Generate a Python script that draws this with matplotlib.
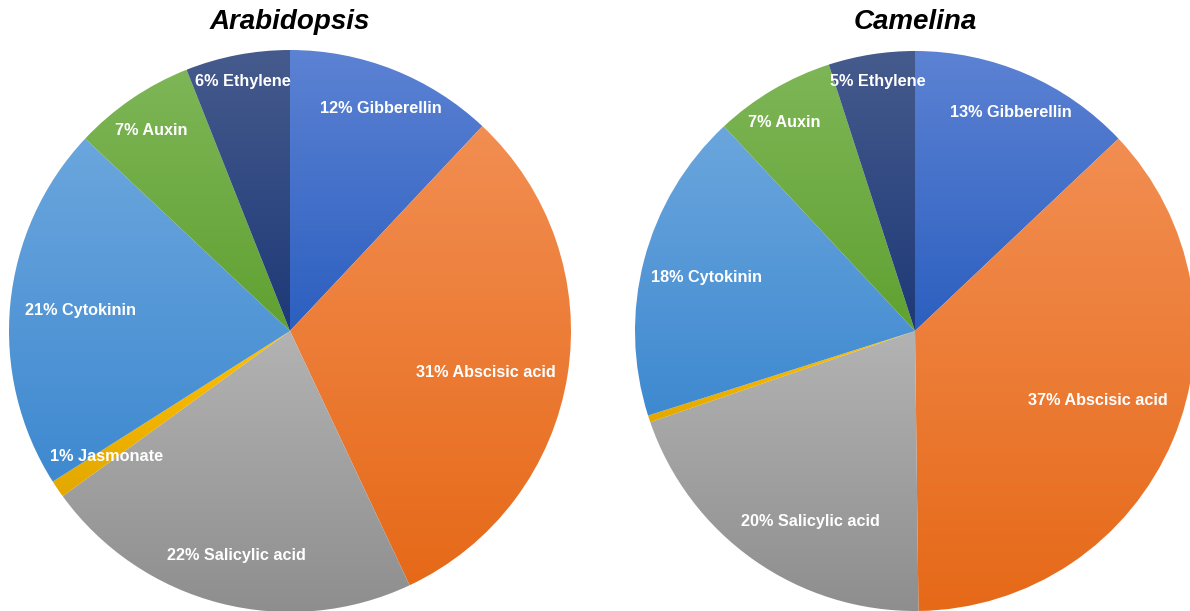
import matplotlib.pyplot as plt
import numpy as np
from matplotlib.colors import LinearSegmentedColormap

hormones = ["Gibberellin", "Abscisic acid", "Salicylic acid", "Jasmonate",
            "Cytokinin", "Auxin", "Ethylene"]
arabidopsis = [12, 31, 22, 1, 21, 7, 6]
camelina = [13, 37, 20, 0.4, 18, 7, 5]

# slice fills run from a lighter top to a darker bottom
top_colors = ["#5C82D3", "#F28E52", "#B3B3B3", "#FFC000", "#6BA6DD", "#7EB657", "#465B8D"]
bottom_colors = ["#2C5FC0", "#E66918", "#8E8E8E", "#E3A800", "#3E89D0", "#60A131", "#1D3977"]

# label placement: fraction of radius, and nudge (deg) from the slice middle
arab_label_dist = [0.857, 0.713, 0.823, 0.79, 0.748, 0.87, 0.905]
arab_label_turn = [0.6, 3.1, -0.9, -0.2, 0.3, -0.5, 0.2]
cam_label_dist = [0.854, 0.70, 0.776, 0.0, 0.767, 0.88, 0.90]
cam_label_turn = [0.4, -2.2, -6.5, 0.0, -0.4, -1.6, 0.4]

fig = plt.figure(figsize=(11.9, 6.11), dpi=100)
ax = fig.add_axes([0, 0, 1, 1])

font = ["Liberation Sans", "DejaVu Sans"]


def draw_pie(values, center, radius, label_dist, label_turn, title):
    wedges, _ = ax.pie(values, center=center, radius=radius, startangle=90,
                       counterclock=False, wedgeprops=dict(linewidth=0))
    grad = np.linspace(0, 1, 256).reshape(-1, 1)
    for w, top, bot in zip(wedges, top_colors, bottom_colors):
        w.set_facecolor("none")
        ext = w.get_path().get_extents()
        cmap = LinearSegmentedColormap.from_list("g", [top, bot])
        im = ax.imshow(grad, extent=(ext.x0, ext.x1, ext.y0, ext.y1),
                       origin="upper", cmap=cmap, aspect="auto", zorder=1)
        im.set_clip_path(w)
        w.set_zorder(2)
    for w, v, name, d, turn in zip(wedges, values, hormones, label_dist, label_turn):
        if v < 1:
            continue
        # clockwise pie, so a positive turn moves the label clockwise
        mid = np.deg2rad((w.theta1 + w.theta2) / 2 - turn)
        x = center[0] + d * radius * np.cos(mid)
        y = center[1] + d * radius * np.sin(mid)
        ax.text(x, y, f"{v:g}% {name}", color="white", fontsize=11.7,
                fontweight="bold", family=font,
                ha="center", va="center", zorder=3)
    ax.text(center[0], 589, title, fontsize=20, fontweight="bold",
            fontstyle="italic", family=font, ha="center", va="center")


draw_pie(arabidopsis, (290, 280), 281, arab_label_dist, arab_label_turn, "Arabidopsis")
draw_pie(camelina, (915, 280), 280, cam_label_dist, cam_label_turn, "Camelina")

ax.set_xlim(0, 1190)
ax.set_ylim(0, 611)
ax.set_aspect("equal")
ax.axis("off")

fig.savefig("out.png", dpi=100)
